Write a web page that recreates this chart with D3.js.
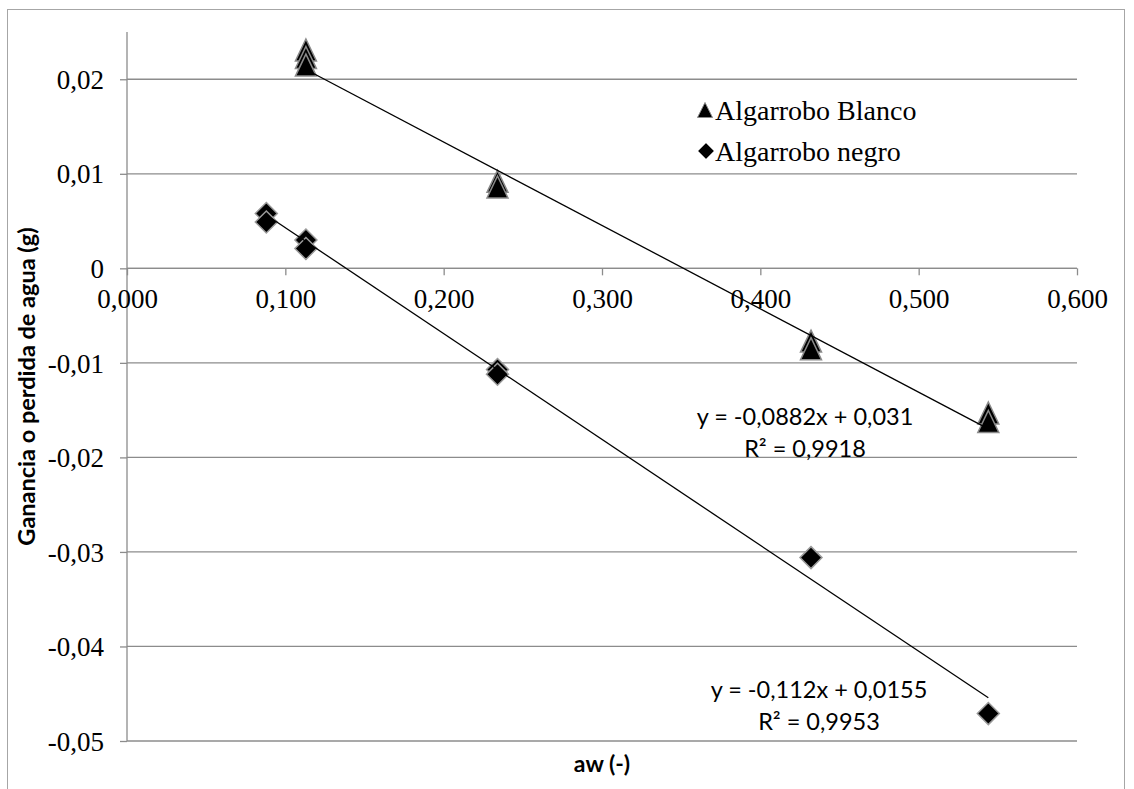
<!DOCTYPE html>
<html>
<head>
<meta charset="utf-8">
<script src="https://cdn.jsdelivr.net/npm/d3@7"></script>
<style>
  html, body { margin: 0; padding: 0; background: #fff; }
  svg { display: block; }
</style>
</head>
<body>
<svg id="chart" width="1134" height="789"></svg>
<script>
// ---- data ----
const xTicks = [0, 0.1, 0.2, 0.3, 0.4, 0.5, 0.6];
const xTickLabels = ["0,000", "0,100", "0,200", "0,300", "0,400", "0,500", "0,600"];
const yTicks = [0.02, 0.01, 0, -0.01, -0.02, -0.03, -0.04, -0.05];
const yTickLabels = ["0,02", "0,01", "0", "-0,01", "-0,02", "-0,03", "-0,04", "-0,05"];

const seriesNames = ["Algarrobo Blanco", "Algarrobo negro"];

const blancoX = [0.113, 0.113, 0.113, 0.234, 0.234, 0.432, 0.432, 0.544, 0.544];
const blancoY = [0.0231, 0.0223, 0.0215, 0.0092, 0.0086, -0.0077, -0.0085, -0.0153, -0.0162];

const negroX = [0.088, 0.088, 0.113, 0.113, 0.234, 0.234, 0.432, 0.544];
const negroY = [0.0058, 0.0049, 0.0030, 0.0021, -0.0107, -0.0112, -0.0306, -0.0471];

const trendSlopes = [-0.0882, -0.112];
const trendIntercepts = [0.031, 0.0155];
const trendLabels = [
  ["y = -0,0882x + 0,031", "R² = 0,9918"],
  ["y = -0,112x + 0,0155", "R² = 0,9953"]
];

// ---- layout ----
const svg = d3.select("#chart");
const plot = { left: 127, right: 1077, top: 32, bottom: 741 };
const x = d3.scaleLinear().domain([0, 0.6]).range([plot.left, plot.right]);
const y = d3.scaleLinear().domain([-0.05, 0.025]).range([plot.bottom, plot.top]);

const gridColor = "#8c8c8c";
const serif = "'Liberation Serif', 'Times New Roman', serif";
const sans = "Lato, 'Open Sans', sans-serif";

// outer border
svg.append("rect")
  .attr("x", 7.5).attr("y", 9.5)
  .attr("width", 1117).attr("height", 800)
  .attr("fill", "none").attr("stroke", "#a6a6a6").attr("stroke-width", 1);

// horizontal gridlines
svg.append("g").selectAll("line").data(yTicks).join("line")
  .attr("x1", plot.left).attr("x2", plot.right)
  .attr("y1", d => y(d)).attr("y2", d => y(d))
  .attr("stroke", gridColor).attr("stroke-width", 1.3);

// y axis
const yAxis = d3.axisLeft(y).tickValues(yTicks).tickSize(7).tickPadding(16)
  .tickFormat((d, i) => yTickLabels[i]);
const gy = svg.append("g").attr("transform", `translate(${plot.left},0)`).call(yAxis);
gy.attr("font-family", null).attr("font-size", null);
gy.select(".domain").attr("stroke", gridColor).attr("stroke-width", 1.3)
  .attr("d", `M0,${plot.top}V${plot.bottom}`);
gy.selectAll(".tick line").attr("stroke", gridColor).attr("stroke-width", 1.3);
gy.selectAll(".tick text").style("font-family", serif).style("font-size", "27px")
  .attr("fill", "#000").attr("dy", "0.34em");

// x axis at y=0
const xAxis = d3.axisBottom(x).tickValues(xTicks).tickSize(7).tickPadding(14)
  .tickFormat((d, i) => xTickLabels[i]);
const gx = svg.append("g").attr("transform", `translate(0,${y(0)})`).call(xAxis);
gx.attr("font-family", null).attr("font-size", null);
gx.select(".domain").attr("stroke", gridColor).attr("stroke-width", 1.3)
  .attr("d", `M${plot.left},0H${plot.right}`);
gx.selectAll(".tick line").attr("stroke", gridColor).attr("stroke-width", 1.3);
gx.selectAll(".tick text").style("font-family", serif).style("font-size", "27px")
  .attr("fill", "#000").attr("dy", "0.7em");

// marker shapes
function triPath(w, h) {
  return `M0,${-h / 2}L${w / 2},${h / 2}L${-w / 2},${h / 2}Z`;
}
function diaPath(r) {
  return `M0,${-r}L${r},0L0,${r}L${-r},0Z`;
}

const blanco = blancoX.map((v, i) => ({ x: v, y: blancoY[i] }));
const negro = negroX.map((v, i) => ({ x: v, y: negroY[i] }));

// markers
svg.append("g").selectAll("path").data(negro).join("path")
  .attr("transform", d => `translate(${x(d.x)},${y(d.y)})`)
  .attr("d", diaPath(11))
  .attr("fill", "#000").attr("stroke", "#9a9a9a").attr("stroke-width", 1.5);

svg.append("g").selectAll("path").data(blanco).join("path")
  .attr("transform", d => `translate(${x(d.x)},${y(d.y)})`)
  .attr("d", triPath(21, 22))
  .attr("fill", "#000").attr("stroke", "#8a8a8a").attr("stroke-width", 1.5);

// trendlines
const seriesData = [blanco, negro];
seriesData.forEach((s, k) => {
  const [x0, x1] = d3.extent(s, d => d.x);
  const f = v => trendSlopes[k] * v + trendIntercepts[k];
  svg.append("line")
    .attr("x1", x(x0)).attr("y1", y(f(x0)))
    .attr("x2", x(x1)).attr("y2", y(f(x1)))
    .attr("stroke", "#000").attr("stroke-width", 1.3);
});

// trendline labels
const labelPos = [[805, 425], [819, 698]];
trendLabels.forEach((lines, k) => {
  const t = svg.append("text")
    .style("font-family", sans).style("font-size", "23.5px").attr("fill", "#000")
    .attr("text-anchor", "middle");
  lines.forEach((ln, j) => {
    t.append("tspan").attr("x", labelPos[k][0]).attr("y", labelPos[k][1] + j * 32).text(ln);
  });
});

// legend
const legend = svg.append("g");
const legendRows = [110, 151];
legend.append("path").attr("transform", `translate(705,${legendRows[0]})`)
  .attr("d", triPath(15, 15)).attr("fill", "#000").attr("stroke", "#8a8a8a").attr("stroke-width", 1);
legend.append("path").attr("transform", `translate(706,${legendRows[1]})`)
  .attr("d", diaPath(8)).attr("fill", "#000").attr("stroke", "#9a9a9a").attr("stroke-width", 1);
seriesNames.forEach((n, i) => {
  legend.append("text").attr("x", 715).attr("y", legendRows[i]).attr("dy", "0.34em")
    .style("font-family", serif).style("font-size", "28px").attr("fill", "#000").text(n);
});

// axis titles
svg.append("text")
  .attr("x", (plot.left + plot.right) / 2).attr("y", 772)
  .attr("text-anchor", "middle")
  .style("font-family", sans).style("font-weight", "bold").style("font-size", "23px")
  .attr("fill", "#000").text("aw (-)");

svg.append("text")
  .attr("transform", `translate(35,${(plot.top + plot.bottom) / 2}) rotate(-90)`)
  .attr("text-anchor", "middle")
  .style("font-family", sans).style("font-weight", "bold").style("font-size", "23.5px")
  .attr("fill", "#000").text("Ganancia o perdida de agua (g)");
</script>
</body>
</html>
